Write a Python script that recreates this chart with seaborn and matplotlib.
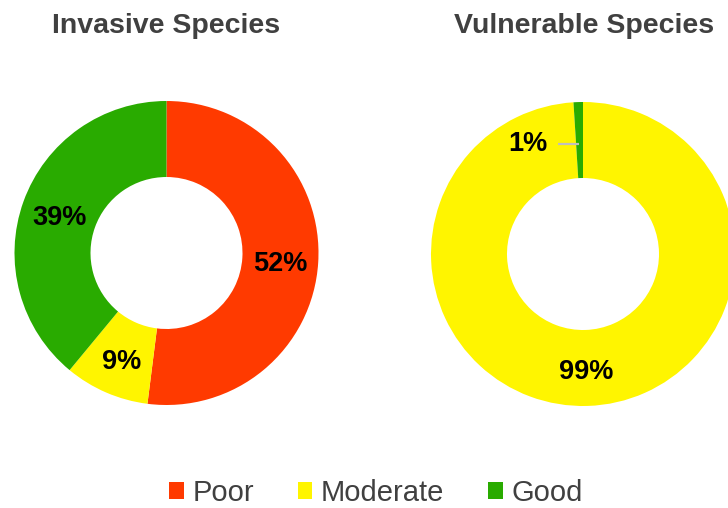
import matplotlib
matplotlib.use("Agg")
import matplotlib.pyplot as plt
from matplotlib.patches import Patch
from matplotlib import font_manager
import numpy as np
import seaborn as sns

# Condition shares per species group
categories = ["Poor", "Moderate", "Good"]
invasive_values = [52, 9, 39]
vulnerable_values = [0, 99, 1]
chart_titles = ["Invasive Species", "Vulnerable Species"]

sns.set_theme(style="white")
names = {f.name for f in font_manager.fontManager.ttflist}
base_font = "Liberation Sans" if "Liberation Sans" in names else "DejaVu Sans"
plt.rcParams["font.family"] = [base_font, "DejaVu Sans"]

palette = sns.color_palette(["#FF3A00", "#FFF500", "#29AB00"])

W, H = 728, 508
fig = plt.figure(figsize=(W / 100, H / 100), dpi=100)
ax = fig.add_axes([0, 0, 1, 1])

R_OUT, RING = 152, 76
centers = [(166.5, H - 253), (583, H - 254)]
title_xy = [(166, H - 26), (584, H - 26)]

for values, center, title, txy in zip(
    [invasive_values, vulnerable_values], centers, chart_titles, title_xy
):
    wedges, _ = ax.pie(
        values, colors=palette, startangle=90, counterclock=False,
        center=center, radius=R_OUT,
        wedgeprops=dict(width=RING, linewidth=0),
    )
    label_r = R_OUT - RING / 2
    for w, v in zip(wedges, values):
        if v == 0:
            continue
        mid = np.deg2rad((w.theta1 + w.theta2) / 2)
        px = center[0] + label_r * np.cos(mid)
        py = center[1] + label_r * np.sin(mid) - 4
        if v < 3:
            # small slice: label placed outside with a leader line
            ax.plot([px - 21, px], [py, py], color="#BFBFBF", lw=1.6,
                    solid_capstyle="butt")
            ax.text(px - 52, py, f"{v}%", ha="center", va="center",
                    fontsize=19.5, fontweight="bold", color="black")
        else:
            ax.text(px, py, f"{v}%", ha="center", va="center",
                    fontsize=19.5, fontweight="bold", color="black")
    ax.text(txy[0], txy[1], title, ha="center", va="center",
            fontsize=20.5, fontweight="bold", color="#404040")

ax.set_xlim(0, W)
ax.set_ylim(0, H)
ax.set_aspect("equal")
ax.axis("off")

handles = [Patch(facecolor=c, edgecolor="none", label=l)
           for c, l in zip(palette, categories)]
fig.legend(handles=handles, loc="center", ncol=3, frameon=False,
           bbox_to_anchor=(376 / W, 1 - 493 / H),
           prop={"size": 21}, labelcolor="#404040",
           handlelength=0.5, handleheight=0.5, handletextpad=0.3,
           columnspacing=1.5, borderpad=0.1)

fig.savefig("out.png", dpi=100, facecolor="white")
